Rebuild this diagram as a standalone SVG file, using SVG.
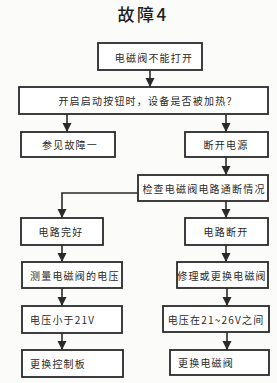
<svg xmlns="http://www.w3.org/2000/svg" width="277" height="383" viewBox="0 0 277 383">
<style>
.bg{fill:#fbfbfa}
.box{fill:#fff;stroke:#2a2a2a;stroke-width:1.8}
.t{font-family:"Noto Sans CJK SC","Liberation Serif",serif;font-size:10px;fill:#2a2a2a;letter-spacing:1.2px;dominant-baseline:central}
.c{text-anchor:middle}
.ln{fill:none;stroke:#2a2a2a;stroke-width:1.6}
</style>
<defs>
<marker id="a" markerUnits="userSpaceOnUse" markerWidth="10" markerHeight="10" refX="9" refY="5" orient="auto" viewBox="0 0 10 10">
<path d="M0,0.5 L9,5 L0,9.5 Z" fill="#2a2a2a"/>
</marker>
</defs>
<rect class="bg" width="277" height="383"/>
<text x="143" y="13" text-anchor="middle" dominant-baseline="central" font-family="Noto Sans CJK SC,Liberation Sans,sans-serif" font-size="17" font-weight="500" fill="#1e1e1e" letter-spacing="2.5">故障4</text>
<g id="connectors">
<path class="ln" marker-end="url(#a)" d="M150,70 V87"/>
<path class="ln" marker-end="url(#a)" d="M67,114 V132"/>
<path class="ln" marker-end="url(#a)" d="M226,114 V132"/>
<path class="ln" marker-end="url(#a)" d="M226,157 V175"/>
<path class="ln" marker-end="url(#a)" d="M138,193 H62 V218"/>
<path class="ln" marker-end="url(#a)" d="M226,201 V218"/>
<path class="ln" marker-end="url(#a)" d="M62,245 V262"/>
<path class="ln" marker-end="url(#a)" d="M226,245 V262"/>
<path class="ln" marker-end="url(#a)" d="M62,288 V306"/>
<path class="ln" marker-end="url(#a)" d="M227,288 V306"/>
<path class="ln" marker-end="url(#a)" d="M62,333 V350"/>
<path class="ln" marker-end="url(#a)" d="M227,332 V350"/>
</g>
<g id="n1"><rect class="box" x="98" y="43" width="104" height="27"/><text class="t c" x="154" y="57">电磁阀不能打开</text></g>
<g id="n2"><rect class="box" x="19" y="87" width="249" height="27"/><text class="t c" x="148" y="100">开启启动按钮时，设备是否被加热？</text></g>
<g id="n3"><rect class="box" x="21" y="132" width="94" height="25"/><text class="t c" x="70" y="144.5">参见故障一</text></g>
<g id="n4"><rect class="box" x="185" y="132" width="83" height="25"/><text class="t c" x="226" y="144.5">断开电源</text></g>
<g id="n5"><rect class="box" x="138" y="175" width="130" height="26"/><text class="t c" x="204" y="188">检查电磁阀电路通断情况</text></g>
<g id="n6"><rect class="box" x="21" y="218" width="82" height="27"/><text class="t c" x="61" y="231.5">电路完好</text></g>
<g id="n7"><rect class="box" x="185" y="218" width="83" height="27"/><text class="t c" x="226" y="231.5">电路断开</text></g>
<g id="n8"><rect class="box" x="22" y="262" width="100" height="26"/><text class="t" x="30" y="275">测量电磁阀的电压</text></g>
<g id="n9"><rect class="box" x="177" y="262" width="91" height="26"/><text class="t c" x="222" y="275">修理或更换电磁阀</text></g>
<g id="n10"><rect class="box" x="22" y="306" width="100" height="27"/><text class="t" x="30" y="319.5">电压小于21V</text></g>
<g id="n11"><rect class="box" x="163" y="306" width="106" height="26"/><text class="t c" x="216" y="319">电压在21~26V之间</text></g>
<g id="n12"><rect class="box" x="22" y="350" width="101" height="27"/><text class="t" x="30" y="363.5">更换控制板</text></g>
<g id="n13"><rect class="box" x="170" y="350" width="99" height="25"/><text class="t" x="178" y="362.5">更换电磁阀</text></g>
</svg>
